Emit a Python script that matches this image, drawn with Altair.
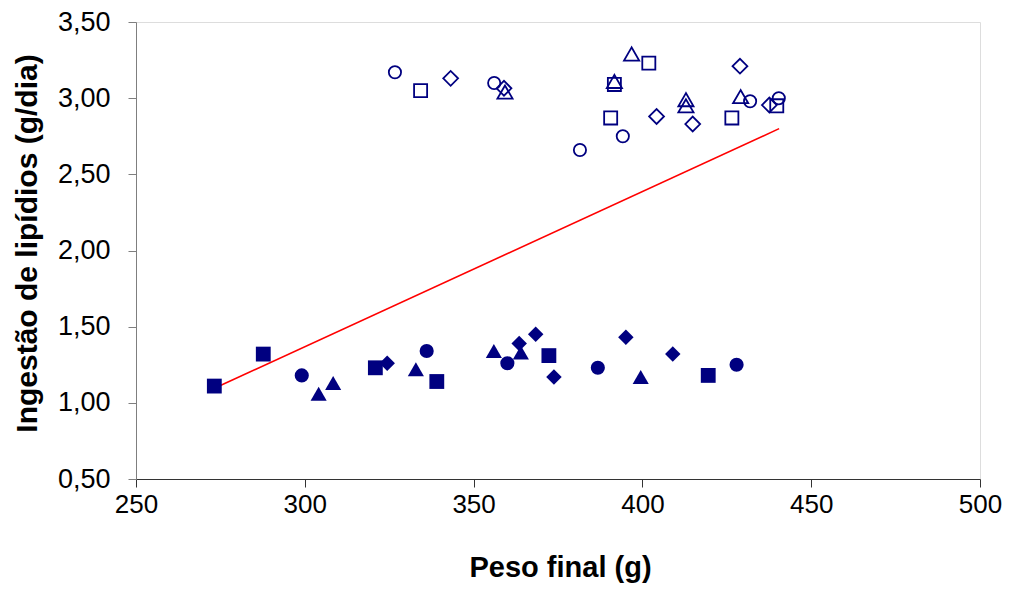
import altair as alt
import pandas as pd

# Open markers (upper group)
open_circle_x = [326.7, 356.1, 394.2, 381.5, 431.9, 440.4]
open_circle_y = [3.17, 3.10, 2.75, 2.66, 2.98, 3.00]
open_square_x = [334.3, 401.9, 391.7, 390.6, 426.5, 439.8]
open_square_y = [3.05, 3.23, 3.09, 2.87, 2.87, 2.95]
open_diamond_x = [343.2, 359.0, 404.2, 414.9, 428.9, 437.6]
open_diamond_y = [3.13, 3.065, 2.88, 2.83, 3.21, 2.955]
open_triangle_x = [359.3, 396.8, 391.7, 412.9, 412.9, 429.1]
open_triangle_y = [3.04, 3.29, 3.11, 2.99, 2.95, 3.01]

# Filled markers (lower group)
fill_circle_x = [299.1, 336.1, 360.0, 386.8, 427.9]
fill_circle_y = [1.18, 1.34, 1.26, 1.23, 1.25]
fill_square_x = [273.2, 287.7, 320.9, 339.1, 372.3, 419.5]
fill_square_y = [1.11, 1.32, 1.23, 1.14, 1.31, 1.18]
fill_diamond_x = [324.4, 363.5, 368.4, 373.8, 395.1, 409.0]
fill_diamond_y = [1.26, 1.39, 1.45, 1.17, 1.43, 1.32]
fill_triangle_x = [304.1, 308.4, 332.9, 356.0, 364.0, 399.5]
fill_triangle_y = [1.06, 1.13, 1.22, 1.34, 1.33, 1.17]

# Trend line endpoints
line_x = [273.7, 440.5]
line_y = [1.10, 2.80]

x_ticks = [250, 300, 350, 400, 450, 500]
y_ticks = [0.5, 1.0, 1.5, 2.0, 2.5, 3.0, 3.5]

NAVY = "#000080"

x_scale = alt.Scale(domain=[250, 500], nice=False, zero=False)
y_scale = alt.Scale(domain=[0.5, 3.5], nice=False, zero=False)

x_axis = alt.Axis(
    title="Peso final (g)", values=x_ticks, grid=False, labelFlush=False,
    domainColor="#333333", tickColor="#333333", tickSize=8,
    labelFont="Liberation Sans", labelFontSize=26, labelColor="black", labelPadding=4,
    titleFont="Liberation Sans", titleFontSize=29, titleFontWeight="bold", titleColor="black",
    titleX=424, titleY=88, titleBaseline="middle",
)
y_axis = alt.Axis(
    title="Ingestão de lipídios (g/dia)", values=y_ticks, grid=False, labelFlush=False,
    domainColor="#7f7f7f", tickColor="#7f7f7f", tickSize=8,
    labelExpr="replace(format(datum.value, '.2f'), '.', ',')",
    labelFont="Liberation Sans", labelFontSize=27, labelColor="black", labelPadding=18,
    titleFont="Liberation Sans", titleFontSize=30, titleFontWeight="bold", titleColor="black",
    titleX=-109, titleY=221, titleAngle=-90, titleBaseline="middle", titleAlign="center",
)

series = [
    (open_circle_x, open_circle_y, "circle", False, 150),
    (open_square_x, open_square_y, "square", False, 170),
    (open_diamond_x, open_diamond_y, "diamond", False, 220),
    (open_triangle_x, open_triangle_y, "triangle-up", False, 230),
    (fill_circle_x, fill_circle_y, "circle", True, 200),
    (fill_square_x, fill_square_y, "square", True, 220),
    (fill_diamond_x, fill_diamond_y, "diamond", True, 240),
    (fill_triangle_x, fill_triangle_y, "triangle-up", True, 260),
]

line_df = pd.DataFrame({"x": line_x, "y": line_y})
base_line = alt.Chart(line_df).mark_line(color="#ff0000", strokeWidth=1.6).encode(
    x=alt.X("x:Q", scale=x_scale, axis=x_axis),
    y=alt.Y("y:Q", scale=y_scale, axis=y_axis),
)

layers = [base_line]
for xs, ys, shp, filled, sz in series:
    df = pd.DataFrame({"x": xs, "y": ys})
    if filled:
        mk = alt.Chart(df).mark_point(shape=shp, filled=True, fill=NAVY, stroke=NAVY,
                                      strokeWidth=0, opacity=1, size=sz)
    else:
        mk = alt.Chart(df).mark_point(shape=shp, filled=False, stroke=NAVY,
                                      strokeWidth=1.8, opacity=1, size=sz)
    layers.append(mk.encode(x=alt.X("x:Q", scale=x_scale), y=alt.Y("y:Q", scale=y_scale)))

chart = alt.layer(*layers).properties(
    width=844, height=457,
    padding={"left": 128, "top": 14, "right": 22, "bottom": 105},
    autosize=alt.AutoSizeParams(type="none"),
).configure_view(stroke=None).configure(background="white")

chart.save("out.html", embed_options={"renderer": "svg", "actions": False})
